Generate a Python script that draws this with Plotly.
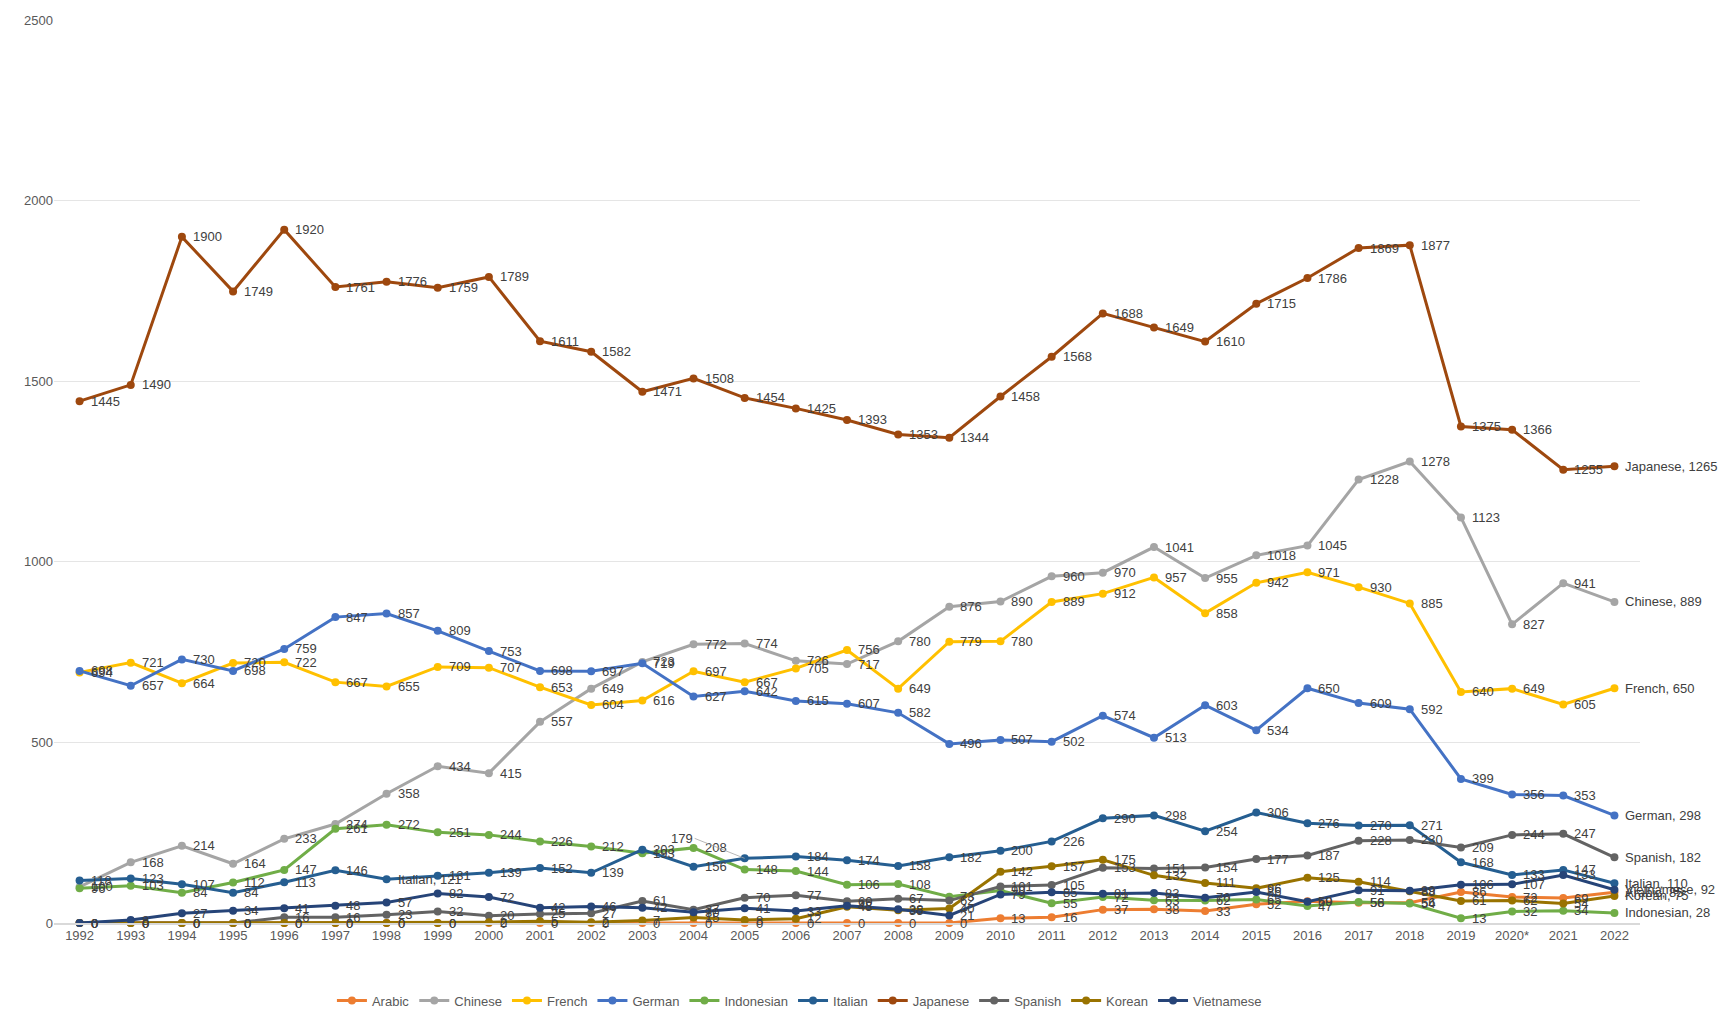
import plotly.graph_objects as go

years = ["1992", "1993", "1994", "1995", "1996", "1997", "1998", "1999", "2000", "2001",
         "2002", "2003", "2004", "2005", "2006", "2007", "2008", "2009", "2010", "2011",
         "2012", "2013", "2014", "2015", "2016", "2017", "2018", "2019", "2020*", "2021", "2022"]

arabic = [0, 0, 0, 0, 0, 0, 0, 0, 0, 0, 0, 0, 0, 0, 0, 0, 0, 0, 13, 16,
          37, 38, 33, 52, 60, 56, 56, 86, 72, 69, 85]
chinese = [100, 168, 214, 164, 233, 274, 358, 434, 415, 557, 649, 723, 772, 774, 726, 717, 780, 876, 890, 960,
           970, 1041, 955, 1018, 1045, 1228, 1278, 1123, 827, 941, 889]
french = [694, 721, 664, 720, 722, 667, 655, 709, 707, 653, 604, 616, 697, 667, 705, 756, 649, 779, 780, 889,
          912, 957, 858, 942, 971, 930, 885, 640, 649, 605, 650]
german = [698, 657, 730, 698, 759, 847, 857, 809, 753, 698, 697, 719, 627, 642, 615, 607, 582, 496, 507, 502,
          574, 513, 603, 534, 650, 609, 592, 399, 356, 353, 298]
indonesian = [96, 103, 84, 112, 147, 261, 272, 251, 244, 226, 212, 193, 208, 148, 144, 106, 108, 73, 90, 55,
              72, 63, 62, 65, 47, 58, 54, 13, 32, 34, 28]
italian = [118, 123, 107, 84, 113, 146, 121, 131, 139, 152, 139, 203, 156, 179, 184, 174, 158, 182, 200, 226,
           290, 298, 254, 306, 276, 270, 271, 168, 133, 147, 110]
japanese = [1445, 1490, 1900, 1749, 1920, 1761, 1776, 1759, 1789, 1611, 1582, 1471, 1508, 1454, 1425, 1393, 1353, 1344, 1458, 1568,
            1688, 1649, 1610, 1715, 1786, 1869, 1877, 1375, 1366, 1255, 1265]
spanish = [0, 0, 0, 0, 16, 16, 23, 32, 20, 25, 27, 61, 37, 70, 77, 60, 67, 62, 101, 105,
           153, 151, 154, 177, 187, 228, 230, 209, 244, 247, 182]
korean = [0, 0, 0, 0, 0, 0, 0, 0, 2, 5, 2, 7, 15, 8, 12, 45, 35, 40, 142, 157,
          175, 132, 111, 96, 125, 114, 88, 61, 62, 54, 75]
vietnamese = [0, 8, 27, 34, 41, 48, 57, 82, 72, 42, 46, 42, 30, 41, 33, 48, 38, 21, 79, 85,
              81, 83, 70, 86, 59, 91, 89, 106, 107, 133, 92]

series = [
    ("Arabic", arabic, "#ED7D31"),
    ("Chinese", chinese, "#A5A5A5"),
    ("French", french, "#FFC000"),
    ("German", german, "#4472C4"),
    ("Indonesian", indonesian, "#70AD47"),
    ("Italian", italian, "#255E91"),
    ("Japanese", japanese, "#9E480E"),
    ("Spanish", spanish, "#636363"),
    ("Korean", korean, "#997300"),
    ("Vietnamese", vietnamese, "#264478"),
]

FONT = "Liberation Sans, Arial, sans-serif"
LABEL_FONT = dict(family=FONT, size=13, color="#404040")
fig = go.Figure()

for name, vals, color in series:
    fig.add_trace(go.Scatter(
        x=years, y=vals, name=name, mode="lines+markers",
        line=dict(color=color, width=3),
        marker=dict(color=color, size=8),
        cliponaxis=False,
    ))

# data labels to the right of each point
for name, vals, color in series:
    for i, v in enumerate(vals):
        text = str(v)
        if i == len(vals) - 1:
            text = f"{name}, {v}"
        if name == "Italian" and years[i] == "1998":
            text = f"{name}, {v}"
        if name == "Italian" and years[i] == "2005":
            continue
        fig.add_annotation(
            x=i, y=v, xref="x", yref="y", text=text, showarrow=False,
            xanchor="left", yanchor="middle", xshift=9, font=LABEL_FONT,
        )

# displaced Italian 2005 label with leader line
idx = years.index("2005")
fig.add_annotation(
    x=idx, y=italian[idx], xref="x", yref="y",
    text=str(italian[idx]), showarrow=True, arrowhead=0, arrowwidth=0.8,
    arrowcolor="#A6A6A6", ax=-50, ay=-20, xanchor="right",
    font=LABEL_FONT,
)

fig.update_layout(
    width=1727, height=1013,
    margin=dict(l=46, r=95, t=5, b=89),
    plot_bgcolor="white", paper_bgcolor="white",
    font=dict(family=FONT, size=13, color="#595959"),
    legend=dict(orientation="h", x=0.47, xanchor="center", y=-0.086, yanchor="middle",
                font=dict(family=FONT, size=13, color="#595959"), itemwidth=30),
    xaxis=dict(type="category", categoryorder="array", categoryarray=years,
               range=[-0.5, len(years) - 0.5],
               showgrid=False, showline=True, linecolor="#D9D9D9",
               linewidth=1.5, ticks="", tickangle=0, tickfont=dict(size=13, color="#595959")),
    yaxis=dict(range=[0, 2500.5], tickmode="array", tickvals=[0, 500, 1000, 1500, 2000, 2500],
               ticklabeloverflow="allow",
               showgrid=True, gridcolor="#E5E5E5",
               zeroline=False, ticks="", tickfont=dict(size=13, color="#595959")),
)

fig.write_html("out.html")
